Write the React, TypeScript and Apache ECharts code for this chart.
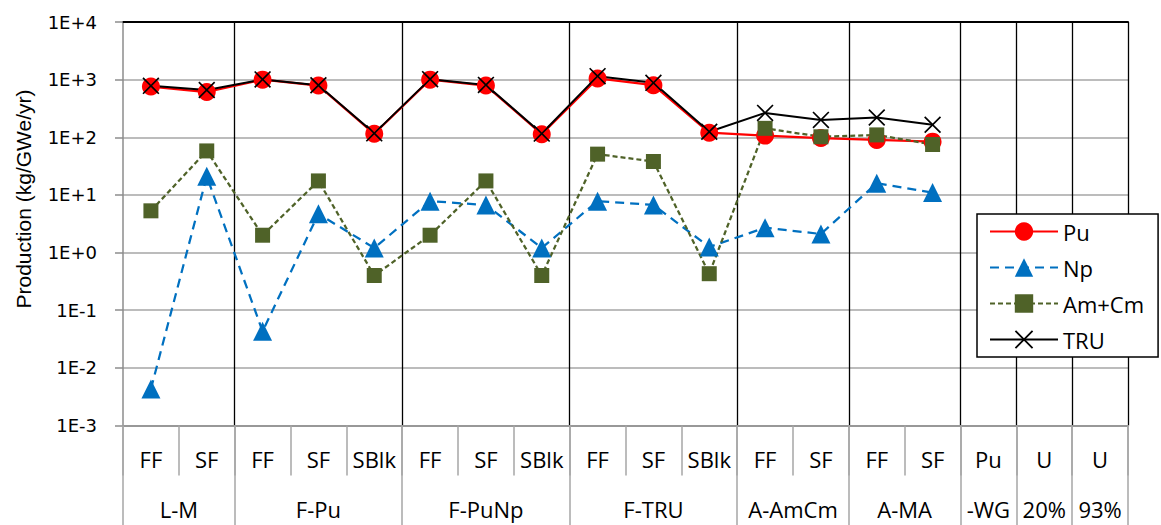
import React, { useEffect, useRef } from 'react';
import * as echarts from 'echarts';

// ---- data ----
const categories = ['FF', 'SF', 'FF', 'SF', 'SBlk', 'FF', 'SF', 'SBlk', 'FF', 'SF', 'SBlk', 'FF', 'SF', 'FF', 'SF', 'Pu', 'U', 'U'];
const groupNames = ['L-M', 'F-Pu', 'F-PuNp', 'F-TRU', 'A-AmCm', 'A-MA', '-WG', '20%', '93%'];
const groupSizes = [2, 3, 3, 3, 2, 2, 1, 1, 1];
const yTickLabels = ['1E-3', '1E-2', '1E-1', '1E+0', '1E+1', '1E+2', '1E+3', '1E+4'];
const seriesNames = ['Pu', 'Np', 'Am+Cm', 'TRU'];

const pu = [760, 610, 1000, 790, 115, 1000, 790, 113, 1050, 800, 120, 107, 97, 90, 84, null, null, null];
const np = [0.0043, 21, 0.043, 4.7, 1.2, 7.8, 6.7, 1.2, 7.8, 6.7, 1.25, 2.7, 2.1, 16, 11, null, null, null];
const amcm = [5.3, 58, 2.0, 17.5, 0.4, 2.0, 17.5, 0.4, 51, 38, 0.43, 143, 102, 110, 75, null, null, null];
const tru = [780, 660, 1010, 800, 117, 1020, 810, 116, 1150, 880, 125, 265, 200, 220, 165, null, null, null];

const X_SYMBOL = 'path://M0.7,0 L5,4.3 L9.3,0 L10,0.7 L5.7,5 L10,9.3 L9.3,10 L5,5.7 L0.7,10 L0,9.3 L4.3,5 L0,0.7 Z';

export default function App() {
  const ref = useRef<HTMLDivElement>(null);

  useEffect(() => {
    const chart = echarts.init(ref.current as HTMLDivElement, null, { renderer: 'svg' });

    // Build half-slot axis for the group (second) row of labels
    const nSlots = categories.length * 2 + 1;
    const groupLabelSlots: string[] = new Array(nSlots).fill('');
    const boundaries = new Set<number>();
    let s = 0;
    groupSizes.forEach((n, i) => {
      boundaries.add(2 * s);
      groupLabelSlots[2 * s + n] = groupNames[i];
      s += n;
    });
    boundaries.add(2 * s);
    const innerBoundaries = new Set<number>([...boundaries].filter((b) => b !== 0));
    const slotKeys = groupLabelSlots.map((_, i) => String(i));

    const labelFont = { fontFamily: 'Open Sans', fontSize: 22, color: '#000' };
    const greyLine = { color: '#a6a6a6', width: 1.5 };

    const option: any = {
      animation: false,
      backgroundColor: '#fff',
      grid: { left: 123, right: 33, top: 22, bottom: 99.5, containLabel: false },
      xAxis: [
        {
          type: 'category',
          data: categories,
          position: 'bottom',
          boundaryGap: true,
          axisLine: { show: true, lineStyle: { color: '#8c8c8c', width: 1.5 } },
          axisTick: { show: true, length: 50, interval: 0, lineStyle: greyLine },
          axisLabel: { interval: 0, margin: 22, ...labelFont },
          splitLine: { show: false },
        },
        {
          type: 'category',
          data: slotKeys,
          position: 'bottom',
          boundaryGap: false,
          axisLine: { show: false },
          axisTick: { show: true, length: 100, interval: (i: number) => boundaries.has(i), lineStyle: greyLine },
          axisLabel: {
            interval: 0,
            margin: 72,
            formatter: (v: string) => groupLabelSlots[Number(v)],
            ...labelFont,
          },
          splitLine: {
            show: true,
            interval: (i: number) => innerBoundaries.has(i),
            lineStyle: { color: '#000', width: 1.3 },
          },
        },
        {
          type: 'category',
          data: categories,
          position: 'top',
          axisLine: { show: true, lineStyle: { color: '#000', width: 2 } },
          axisTick: { show: false },
          axisLabel: { show: false },
          splitLine: { show: false },
        },
      ],
      yAxis: [
        {
          type: 'log',
          logBase: 10,
          min: 0.001,
          max: 10000,
          splitNumber: 7,
          axisLine: { show: true, lineStyle: { color: '#8c8c8c', width: 1.5 } },
          axisTick: { show: true, length: 8, lineStyle: { color: '#8c8c8c', width: 1.5 } },
          axisLabel: {
            margin: 26,
            fontFamily: 'DejaVu Sans',
            fontSize: 18,
            color: '#000',
            formatter: (v: number) => yTickLabels[Math.round(Math.log10(v)) + 3],
          },
          splitLine: { show: true, lineStyle: { color: '#a6a6a6', width: 1.5 } },
          minorTick: { show: false },
          minorSplitLine: { show: false },
        },
      ],
      legend: {
        orient: 'vertical',
        left: 977,
        top: 214,
        padding: [6.5, 14, 6.5, 12],
        itemWidth: 68,
        itemHeight: 23,
        itemGap: 14,
        backgroundColor: '#fff',
        borderColor: '#000',
        borderWidth: 1.5,
        borderRadius: 0,
        textStyle: { fontFamily: 'Open Sans', fontSize: 22, color: '#000' },
        data: seriesNames,
      },
      graphic: [
        {
          type: 'text',
          x: 23,
          y: 199,
          rotation: Math.PI / 2,
          style: {
            text: 'Production (kg/GWe/yr)',
            font: '21px "Liberation Sans"',
            fill: '#000',
            align: 'center',
            verticalAlign: 'middle',
          },
        },
      ],
      series: [
        {
          name: seriesNames[0],
          type: 'line',
          data: pu,
          symbol: 'circle',
          symbolSize: 18,
          lineStyle: { color: '#ff0000', width: 2.25 },
          itemStyle: { color: '#ff0000' },
        },
        {
          name: seriesNames[1],
          type: 'line',
          data: np,
          symbol: 'triangle',
          symbolSize: 19,
          lineStyle: { color: '#0070c0', width: 2.25, type: [9, 6] },
          itemStyle: { color: '#0070c0' },
        },
        {
          name: seriesNames[2],
          type: 'line',
          data: amcm,
          symbol: 'rect',
          symbolSize: 15,
          lineStyle: { color: '#4f6228', width: 2.25, type: [5, 3] },
          itemStyle: { color: '#4f6228' },
        },
        {
          name: seriesNames[3],
          type: 'line',
          data: tru,
          symbol: X_SYMBOL,
          symbolSize: 17,
          lineStyle: { color: '#000', width: 2 },
          itemStyle: { color: '#000' },
        },
      ],
    };

    chart.setOption(option);
    return () => chart.dispose();
  }, []);

  return (
    <div
      ref={ref}
      style={{ position: 'fixed', left: 0, top: 0, width: 1161, height: 525, background: '#fff' }}
    />
  );
}
